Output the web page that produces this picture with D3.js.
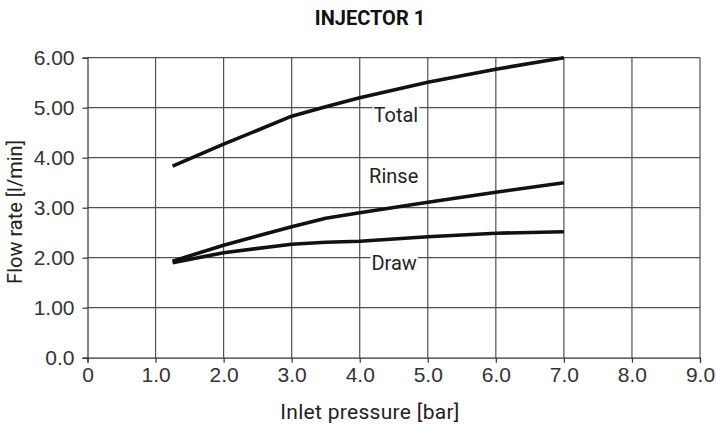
<!DOCTYPE html>
<html>
<head>
<meta charset="utf-8">
<script src="https://cdn.jsdelivr.net/npm/d3@7"></script>
<style>
  html, body { margin: 0; padding: 0; background: #fff; }
  svg { display: block; }
</style>
</head>
<body>
<svg id="chart" width="716" height="427"></svg>
<script>
// ---- data ----
const pressure = [1.25, 2.0, 3.0, 3.5, 4.0, 5.0, 6.0, 7.0];
const totalFlow = [3.83, 4.27, 4.83, 5.02, 5.20, 5.51, 5.77, 6.00];
const rinseFlow = [1.93, 2.25, 2.62, 2.79, 2.90, 3.11, 3.31, 3.50];
const drawFlow  = [1.90, 2.10, 2.27, 2.31, 2.33, 2.42, 2.49, 2.52];
const seriesNames = ["Total", "Rinse", "Draw"];
const xTickValues = [0, 1, 2, 3, 4, 5, 6, 7, 8, 9];
const xTickLabels = ["0", "1.0", "2.0", "3.0", "4.0", "5.0", "6.0", "7.0", "8.0", "9.0"];
const yTickValues = [0, 1, 2, 3, 4, 5, 6];
const yTickLabels = ["0.0", "1.00", "2.00", "3.00", "4.00", "5.00", "6.00"];
const labelAnchor = [[4.86, 4.71], [4.86, 3.49], [4.84, 1.76]]; // label end positions in data units (x, y)

const chartTitle = "INJECTOR 1";
const xTitle = "Inlet pressure [bar]";
const yTitle = "Flow rate [l/min]";

// ---- layout ----
const svg = d3.select("#chart");
const mLeft = 87.5, mRight = 700, mTop = 57.7, mBottom = 357.7;
const x = d3.scaleLinear().domain([0, 9]).range([mLeft, mRight]);
const y = d3.scaleLinear().domain([0, 6]).range([mBottom, mTop]);

const tickFont = "'Liberation Sans', Arial, sans-serif";
const dinFont = "Roboto, 'Noto Sans', sans-serif";

// grid lines
const grid = svg.append("g");
grid.selectAll("line.v").data(xTickValues.slice(1)).join("line")
  .attr("x1", d => x(d)).attr("x2", d => x(d))
  .attr("y1", y(6)).attr("y2", y(0))
  .attr("stroke", "#505050").attr("stroke-width", 1.2);
grid.selectAll("line.h").data(yTickValues.slice(1)).join("line")
  .attr("x1", x(0)).attr("x2", x(9))
  .attr("y1", d => y(d)).attr("y2", d => y(d))
  .attr("stroke", "#505050").attr("stroke-width", 1.2);

// axes
const xAxis = d3.axisBottom(x).tickValues(xTickValues)
  .tickFormat((d, i) => xTickLabels[i]).tickSize(5).tickPadding(4);
const gx = svg.append("g").attr("transform", `translate(0,${mBottom})`).call(xAxis);
gx.select(".domain").attr("stroke", "#333").attr("stroke-width", 1.2);
gx.selectAll(".tick line").attr("stroke", "#333").attr("stroke-width", 1.2);
gx.selectAll(".tick text").attr("font-family", tickFont).attr("font-size", 21)
  .attr("fill", "#333");

const yAxis = d3.axisLeft(y).tickValues(yTickValues)
  .tickFormat((d, i) => yTickLabels[i]).tickSize(5).tickPadding(8);
const gy = svg.append("g").attr("transform", `translate(${mLeft},0)`).call(yAxis);
gy.select(".domain").attr("stroke", "#333").attr("stroke-width", 1.2);
gy.selectAll(".tick line").attr("stroke", "#333").attr("stroke-width", 1.2);
gy.selectAll(".tick text").attr("font-family", tickFont).attr("font-size", 21)
  .attr("fill", "#333");

// lines
const series = [totalFlow, rinseFlow, drawFlow];
const line = d3.line().x((d, i) => x(pressure[i])).y(d => y(d));
svg.append("g").selectAll("path").data(series).join("path")
  .attr("d", d => line(d))
  .attr("fill", "none").attr("stroke", "#111").attr("stroke-width", 3.6)
  .attr("stroke-linejoin", "round");

// series labels with white backgrounds
const lab = svg.append("g");
seriesNames.forEach((name, i) => {
  const t = lab.append("text")
    .attr("x", x(labelAnchor[i][0])).attr("y", y(labelAnchor[i][1]))
    .attr("text-anchor", "end")
    .attr("font-family", dinFont).attr("font-size", 20).attr("fill", "#222")
    .text(name);
  const bb = t.node().getBBox();
  lab.insert("rect", () => t.node())
    .attr("x", bb.x - 1).attr("y", bb.y + 3).attr("width", bb.width + 2).attr("height", bb.height - 5)
    .attr("fill", "#fff");
});

// titles
svg.append("text").attr("x", 370).attr("y", 25).attr("text-anchor", "middle")
  .attr("font-family", dinFont).attr("font-weight", "bold").attr("font-size", 20)
  .attr("fill", "#111").text(chartTitle);
svg.append("text").attr("x", 370).attr("y", 419).attr("text-anchor", "middle")
  .attr("font-family", dinFont).attr("font-size", 21).attr("letter-spacing", 0.3)
  .attr("fill", "#222").text(xTitle);
svg.append("text").attr("transform", "translate(22,212) rotate(-90)").attr("text-anchor", "middle")
  .attr("font-family", dinFont).attr("font-size", 20).attr("fill", "#222").text(yTitle);
</script>
</body>
</html>
